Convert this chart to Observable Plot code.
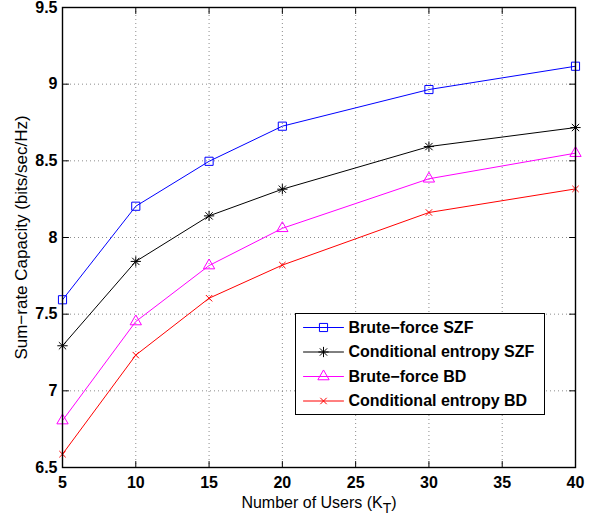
<!DOCTYPE html>
<html>
<head>
<meta charset="utf-8">
<script src="https://cdn.jsdelivr.net/npm/d3@7"></script>
<script src="https://cdn.jsdelivr.net/npm/@observablehq/plot@0.6"></script>
<style>
  body { margin: 0; background: #ffffff; }
  #chart svg { display: block; }
</style>
</head>
<body>
<div id="chart"></div>
<script>
// ---- data ----
const users = [5, 10, 15, 20, 30, 40];
const bruteForceSZF = [7.594, 8.204, 8.497, 8.726, 8.965, 9.117];
const condEntropySZF = [7.294, 7.844, 8.141, 8.315, 8.593, 8.717];
const bruteForceBD = [6.806, 7.452, 7.817, 8.060, 8.383, 8.550];
const condEntropyBD = [6.587, 7.233, 7.604, 7.820, 8.163, 8.317];
const seriesNames = ["Brute−force SZF", "Conditional entropy SZF", "Brute−force BD", "Conditional entropy BD"];
const xTicks = [5, 10, 15, 20, 25, 30, 35, 40];
const yTicks = [6.5, 7, 7.5, 8, 8.5, 9, 9.5];
const xLabelMain = "Number of Users (K";
const xLabelSub = "T";
const xLabelEnd = ")";
const yLabel = "Sum−rate Capacity (bits/sec/Hz)";

// ---- styles ----
const seriesColors = ["#0000ff", "#000000", "#ff00ff", "#ff0000"];
const seriesSymbols = [["square"], ["plus", "times"], ["triangle"], ["times"]];
const seriesRadii = [4.6, 3.4, 4.2, 3.0];
const font = "'Liberation Sans', Arial, Helvetica, sans-serif";

const seriesValues = [bruteForceSZF, condEntropySZF, bruteForceBD, condEntropyBD];
const rows = seriesNames.flatMap((name, s) =>
  users.map((u, i) => ({series: name, s, x: u, y: seriesValues[s][i]})));

const W = 595, H = 518;
const mL = 62, mR = 20, mT = 7, mB = 51;

const tickShape = {draw(context, l) { context.moveTo(0, 0); context.lineTo(0, -l); }};

// legend layout (pixels relative to plot frame top-left)
const legLeft = 295 - mL, legRight = (W - mR) - 544, legTop = 313 - mT, legBottom = (H - mB) - 414;
const legRow0 = 327 - mT, legStep = 24.5;

const marks = [];
// grid
marks.push(Plot.ruleX(xTicks.slice(1, -1), {stroke: "#6e6e6e", strokeWidth: 0.8, strokeDasharray: "1,3"}));
marks.push(Plot.ruleY(yTicks.slice(1, -1), {stroke: "#6e6e6e", strokeWidth: 0.8, strokeDasharray: "1,3"}));
// lines
marks.push(Plot.line(rows, {x: "x", y: "y", z: "series", stroke: "series", strokeWidth: 1}));
// markers
seriesNames.forEach((name, s) => {
  seriesSymbols[s].forEach(sym => {
    marks.push(Plot.dot(rows.filter(d => d.s === s), {
      x: "x", y: "y", symbol: () => sym, r: seriesRadii[s], fill: "none",
      stroke: seriesColors[s], strokeWidth: 1
    }));
  });
});
// legend box
marks.push(Plot.frame({fill: "white", stroke: "black", strokeWidth: 1,
  insetLeft: legLeft, insetRight: legRight, insetTop: legTop, insetBottom: legBottom}));
seriesNames.forEach((name, s) => {
  const dy = legRow0 + legStep * s;
  marks.push(Plot.vector([0], {frameAnchor: "top-left", dx: 303 - mL, dy, rotate: 90, length: 40,
    anchor: "start", shape: tickShape, stroke: seriesColors[s], strokeWidth: 1}));
  seriesSymbols[s].forEach(sym => {
    marks.push(Plot.dot([0], {frameAnchor: "top-left", dx: 323 - mL, dy, symbol: () => sym,
      r: seriesRadii[s], fill: "none", stroke: seriesColors[s], strokeWidth: 1}));
  });
  marks.push(Plot.text([name], {frameAnchor: "top-left", dx: 348 - mL, dy, text: d => d,
    textAnchor: "start", lineAnchor: "middle", fontSize: 16, fontWeight: "bold", fill: "black"}));
});
// axes frame
marks.push(Plot.frame({stroke: "black", strokeWidth: 1.4}));
// inward ticks
marks.push(Plot.vector(yTicks, {x: 5, y: d => d, rotate: 90, length: 6, anchor: "start", shape: tickShape, stroke: "black", strokeWidth: 1}));
marks.push(Plot.vector(yTicks, {x: 40, y: d => d, rotate: -90, length: 6, anchor: "start", shape: tickShape, stroke: "black", strokeWidth: 1}));
marks.push(Plot.vector(xTicks, {x: d => d, y: 6.5, rotate: 0, length: 6, anchor: "start", shape: tickShape, stroke: "black", strokeWidth: 1}));
marks.push(Plot.vector(xTicks, {x: d => d, y: 9.5, rotate: 180, length: 6, anchor: "start", shape: tickShape, stroke: "black", strokeWidth: 1}));
// tick labels
marks.push(Plot.axisX(xTicks, {tickSize: 0, tickPadding: 9, fontSize: 16, fontWeight: "bold", label: null, tickFormat: d => String(d), fill: "black"}));
marks.push(Plot.axisY(yTicks, {tickSize: 0, tickPadding: 5, fontSize: 16, fontWeight: "bold", label: null, tickFormat: d => String(d), fill: "black"}));
// axis titles
marks.push(Plot.text([yLabel], {frameAnchor: "left", dx: -41, rotate: -90, text: d => d, textAnchor: "middle", lineAnchor: "middle", fontSize: 17, fill: "black"}));
marks.push(Plot.text([xLabelMain], {frameAnchor: "bottom", dy: 35, text: d => d, textAnchor: "middle", lineAnchor: "middle", fontSize: 16, fill: "black"}));

const chart = Plot.plot({
  width: W, height: H,
  marginLeft: mL, marginRight: mR, marginTop: mT, marginBottom: mB,
  style: {fontFamily: font, background: "white", color: "black"},
  x: {domain: [5, 40]},
  y: {domain: [6.5, 9.5]},
  color: {domain: seriesNames, range: seriesColors},
  marks
});

// subscript for x label
d3.select(chart).selectAll("text").filter(function () { return this.textContent === xLabelMain; })
  .each(function () {
    const t = d3.select(this);
    t.text(null);
    t.append("tspan").text(xLabelMain);
    t.append("tspan").attr("dy", 5).attr("font-size", 14).text(xLabelSub);
    t.append("tspan").attr("dy", -5).text(xLabelEnd);
  });

document.getElementById("chart").appendChild(chart);
</script>
</body>
</html>
